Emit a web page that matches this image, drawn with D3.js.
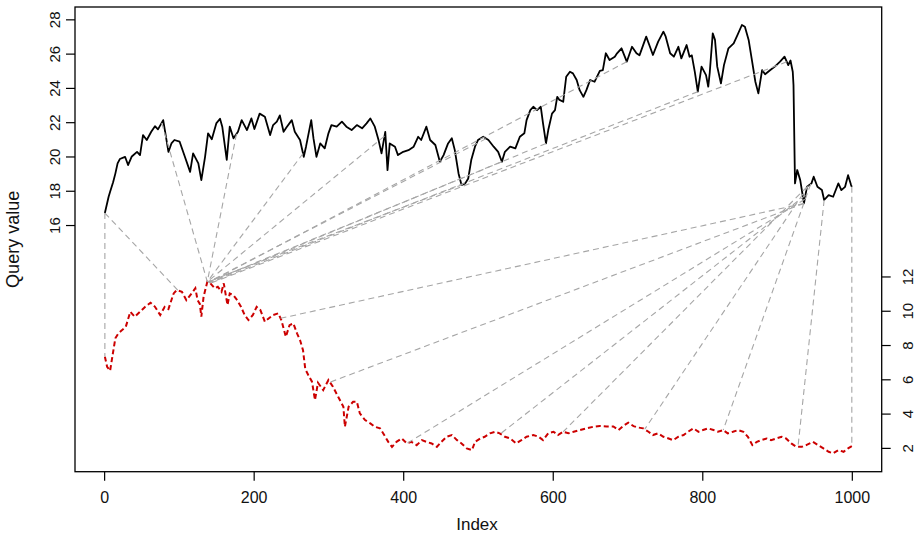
<!DOCTYPE html>
<html>
<head>
<meta charset="utf-8">
<script src="https://cdn.jsdelivr.net/npm/d3@7"></script>
<style>
  body { margin: 0; background: #fff; }
  svg { display: block; font-family: "Liberation Sans", Arial, Helvetica, sans-serif; }
</style>
</head>
<body>
<svg id="chart" width="916" height="535"></svg>
<script>
// query series (black)
var queryIdx = [1,6,8,12,15,18,21,28,32,37,44,48,52,57,63,68,72,79,81,86,90,94,101,108,115,119,126,130,135,139,
  144,150,155,158,164,168,173,179,184,191,197,201,208,215,222,226,231,235,240,244,251,255,262,267,270,277,280,284,289,295,
  300,304,311,318,324,331,338,345,351,356,362,367,371,376,379,382,389,393,400,407,414,420,424,431,436,443,449,454,460,465,
  469,474,478,483,487,491,496,500,507,514,521,527,532,536,543,550,556,562,565,570,574,579,584,587,591,594,599,603,606,609,
  614,618,623,627,632,636,641,645,650,656,663,667,671,676,683,686,692,699,706,712,716,725,730,734,741,748,751,757,762,768,
  772,779,783,786,790,794,799,805,808,810,814,817,820,825,829,835,842,847,853,857,862,866,871,875,880,884,891,897,904,910,
  915,918,921,922,924,927,931,936,940,946,949,954,960,963,969,975,982,986,991,995,999,1000];
var queryVal = [16.7,17.65,17.94,18.5,19.0,19.6,19.85,19.98,19.5,20.0,20.27,20.08,21.25,20.96,21.44,21.77,21.58,22.12,21.6,20.27,20.76,20.96,20.86,19.98,19.1,20.18,19.6,18.62,19.98,21.35,
  21.0,21.93,22.2,21.74,19.8,21.74,21.06,21.44,22.12,21.54,22.22,21.6,22.5,22.32,21.25,21.83,22.03,22.4,21.44,21.7,22.12,21.44,20.96,19.98,20.57,22.12,21.05,19.98,20.76,20.47,
  21.35,21.83,21.74,22.03,21.74,21.54,21.83,21.64,21.93,22.22,21.74,20.96,20.18,21.44,19.2,20.76,20.57,20.08,20.27,20.37,20.57,21.15,20.96,21.74,20.96,20.67,19.69,20.08,20.76,21.06,
  20.37,19.01,18.33,18.43,18.72,19.79,20.57,20.96,21.15,20.96,20.57,20.27,19.69,20.27,20.57,20.47,21.15,21.35,22.12,22.7,22.9,22.7,22.9,21.93,20.76,21.54,22.5,22.7,23.48,23.3,
  23.19,24.65,24.94,24.85,24.46,23.87,23.48,23.87,24.46,24.36,25.0,25.04,26.02,25.63,25.82,26.02,26.31,25.53,26.4,26.02,25.9,26.99,26.4,25.92,26.7,27.28,27.0,26.02,25.82,26.4,
  25.72,26.5,25.82,25.9,24.94,23.78,25.24,24.75,24.07,24.9,27.18,26.8,25.24,24.26,25.33,26.31,26.6,27.08,27.67,27.57,26.8,25.72,24.36,23.68,25.04,24.8,25.04,25.24,25.53,25.82,
  25.33,25.6,24.94,24.17,18.43,19.21,18.62,17.26,18.23,18.43,18.82,18.23,18.04,17.46,17.75,17.65,18.43,18.04,18.23,18.91,18.33,18.23];

// reference series (red, dashed), right-hand axis values
var refIdx = [1,4,8,11,15,19,24,29,35,41,48,55,62,68,75,81,86,93,97,104,110,117,122,125,128,130,133,138,142,148,
  152,157,160,165,168,173,178,183,188,193,199,204,209,215,220,226,233,237,243,248,253,258,262,266,269,273,278,282,286,293,
  300,306,313,320,322,327,333,338,342,349,356,362,369,376,380,385,391,398,405,411,418,425,431,438,445,451,458,465,472,478,
  485,492,496,503,509,516,523,529,536,543,551,558,565,574,581,587,594,601,607,614,621,628,636,645,654,663,672,681,688,694,
  701,708,714,721,728,734,741,748,755,761,768,775,781,788,795,801,808,815,821,828,834,841,848,855,861,867,873,879,886,892,
  899,906,912,919,926,933,939,948,955,962,969,975,982,989,995,1000];
var refVal = [7.32,6.73,6.5,7.32,8.39,8.68,8.87,9.07,9.94,9.65,9.94,10.23,10.47,10.23,9.75,10.23,10.1,11.01,11.2,11.11,10.62,11.01,11.31,10.62,10.4,9.65,10.82,11.69,11.6,11.31,
  11.4,11.11,11.6,10.33,11.01,10.9,10.62,10.23,9.75,9.46,9.75,10.23,10.04,9.36,9.55,9.75,9.85,9.46,8.48,9.16,9.26,8.68,8.29,7.7,6.6,6.25,5.86,4.79,5.8,5.37,
  5.96,5.57,4.98,4.4,3.23,4.4,4.69,4.69,4.01,3.62,3.43,3.23,3.14,2.65,2.35,2.06,2.35,2.55,2.26,2.35,2.16,2.45,2.35,2.26,2.06,2.35,2.65,2.75,2.45,2.26,
  1.97,1.87,2.35,2.55,2.65,2.85,2.94,2.85,2.65,2.55,2.26,2.45,2.65,2.75,2.65,2.45,2.85,2.94,2.75,2.94,2.85,2.94,3.04,3.14,3.23,3.28,3.25,3.25,3.04,3.27,
  3.47,3.27,3.19,3.14,2.94,2.75,2.85,2.65,2.55,2.45,2.65,2.75,2.94,3.14,2.94,3.04,3.14,3.04,2.94,3.04,2.85,2.94,3.04,2.94,2.65,2.16,2.35,2.45,2.55,2.45,
  2.55,2.65,2.55,2.26,2.06,2.06,2.16,2.35,2.16,1.97,1.77,1.68,1.87,1.77,1.97,2.1];

// alignment pairs: query index -> reference index
var matchQuery = [1,1,77,177,266,375,480,511,532,591,699,794,913,936,936,937,938,940,942,945,963,1000];
var matchRef   = [1,99,138,138,138,138,138,139,139,140,140,141,142,236,302,405,530,614,723,828,928,1000];

var xTicks = [0,200,400,600,800,1000];
var leftTicks = [16,18,20,22,24,26,28];
var rightTicks = [2,4,6,8,10,12];
var refOffset = 1;   // reference drawn shifted by this much on the query scale

var svg = d3.select("#chart");

var x = d3.scaleLinear().domain([-38.96, 1039.96]).range([75, 881.7]),
    y = d3.scaleLinear().domain([1.61, 28.72]).range([471.7, 7]);

var queryPts = queryIdx.map(function (d, i) { return [d, queryVal[i]]; }),
    refPts = refIdx.map(function (d, i) { return [d, refVal[i] + refOffset]; });

var line = d3.line()
    .x(function (d) { return x(d[0]); })
    .y(function (d) { return y(d[1]); });

// value of a drawn series at index i (on its line between read points)
var bisect = d3.bisector(function (d) { return d[0]; }).left;
function valueAt (pts, i) {
  var k = bisect(pts, i);
  if (k <= 0) return pts[0][1];
  if (k >= pts.length) return pts[pts.length - 1][1];
  var a = pts[k - 1], b = pts[k];
  if (b[0] === i) return b[1];
  return a[1] + (b[1] - a[1]) * (i - a[0]) / (b[0] - a[0]);
}

svg.append("path")
    .datum(queryPts)
    .attr("d", line)
    .attr("fill", "none")
    .attr("stroke", "#000")
    .attr("stroke-width", 1.8)
    .attr("stroke-linejoin", "round");

svg.append("path")
    .datum(refPts)
    .attr("d", line)
    .attr("fill", "none")
    .attr("stroke", "#cc0000")
    .attr("stroke-width", 2)
    .attr("stroke-dasharray", "5,3");

// match segments
svg.append("g").selectAll("line")
    .data(matchQuery.map(function (q, i) { return [q, matchRef[i]]; }))
    .enter()
    .append("line")
    .attr("x1", function (d) { return x(d[0]); })
    .attr("y1", function (d) { return y(valueAt(queryPts, d[0])); })
    .attr("x2", function (d) { return x(d[1]); })
    .attr("y2", function (d) { return y(valueAt(refPts, d[1])); })
    .attr("stroke", "#a6a6a6")
    .attr("stroke-width", 1.1)
    .attr("stroke-dasharray", "6,4");

// box
svg.append("rect")
    .attr("x", 75).attr("y", 7)
    .attr("width", 881.7 - 75).attr("height", 471.7 - 7)
    .attr("fill", "none")
    .attr("stroke", "#000")
    .attr("stroke-width", 1.3);

var xAxis = svg.append("g")
    .attr("transform", "translate(0,471.7)")
    .call(d3.axisBottom(x).tickValues(xTicks).tickSize(9).tickFormat(d3.format("d")));

var leftAxis = svg.append("g")
    .attr("transform", "translate(75,0)")
    .call(d3.axisLeft(y).tickValues(leftTicks).tickSize(9));

var rightAxis = svg.append("g")
    .attr("transform", "translate(881.7,0)")
    .call(d3.axisRight(y).tickValues(rightTicks.map(function (d) { return d + refOffset; }))
      .tickSize(9).tickFormat(function (d) { return d - refOffset; }));

[xAxis, leftAxis, rightAxis].forEach(function (g) {
  g.select(".domain").remove();
  g.selectAll(".tick line").attr("stroke", "#000").attr("stroke-width", 1.2);
  g.selectAll("text").attr("fill", "#111").attr("font-family", null);
});

xAxis.selectAll("text")
    .attr("y", 31.6).attr("dy", 0)
    .style("font-size", "16px");

// y labels run along the axis, as in R
leftAxis.selectAll("text")
    .attr("text-anchor", "middle")
    .attr("transform", "rotate(-90)")
    .attr("x", 0).attr("y", -15.5).attr("dy", 0)
    .style("font-size", "15px");

rightAxis.selectAll("text")
    .attr("text-anchor", "middle")
    .attr("transform", "rotate(-90)")
    .attr("x", 0).attr("y", 31.5).attr("dy", 0)
    .style("font-size", "15px");

svg.append("text")
    .attr("x", 477).attr("y", 530)
    .attr("text-anchor", "middle")
    .attr("fill", "#111")
    .style("font-size", "17px")
    .text("Index");

svg.append("text")
    .attr("transform", "translate(19," + (7 + 471.7) / 2 + ") rotate(-90)")
    .attr("text-anchor", "middle")
    .attr("fill", "#111")
    .style("font-size", "18px")
    .text("Query value");
</script>
</body>
</html>
